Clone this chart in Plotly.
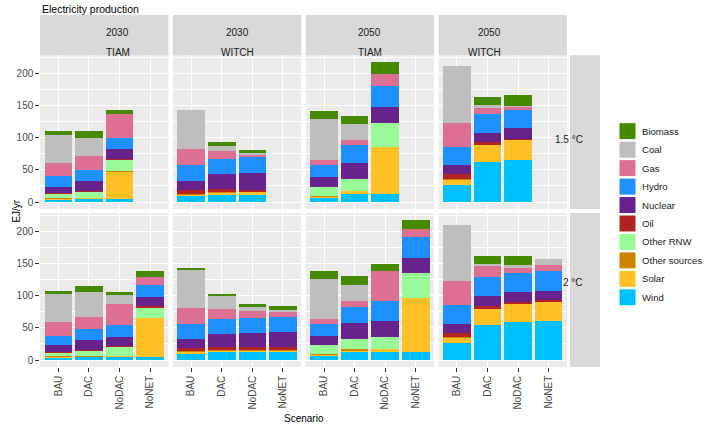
import plotly.graph_objects as go

W, H = 705, 425

# ---------------- data ----------------
scenarios = ["BAU", "DAC", "NoDAC", "NoNET"]
years = ["2030", "2030", "2050", "2050"]
models = ["TIAM", "WITCH", "TIAM", "WITCH"]
targets = ["1.5 °C", "2 °C"]
sources = ["Wind", "Solar", "Other sources", "Other RNW", "Oil",
           "Nuclear", "Hydro", "Gas", "Coal", "Biomass"]

# each list: 8 panels (row 1.5 °C: cols 1-4, then row 2 °C: cols 1-4) x 4 scenarios (None = not run)
wind = [[3, 5, 4, None], [10, 11, 11, None], [6, 12, 12, None], [27, 62, 65, None],
        [3.5, 5, 5.5, 5], [10, 12, 12, 12], [7, 13, 12, 12], [26.5, 54, 59, 60.5]]
solar = [[2, 1, 44, None], [2, 4, 5, None], [2, 5, 74, None], [8, 27, 32, None],
         [2, 1, 1, 60], [2.5, 3.5, 3.5, 3.5], [1.5, 2.5, 5, 84], [8.5, 25.5, 28.5, 30]]
other_sources = [[1, 0.5, 0.5, None], [1, 1, 0.5, None], [1, 0.5, 0, None], [0.5, 0, 0, None],
                 [0.5, 0.5, 0.5, 0], [1, 0.5, 0.5, 0.5], [0.5, 1.5, 0, 0], [0.5, 0, 0, 0]]
other_rnw = [[7, 10, 18, None], [0, 0, 0, None], [15, 19, 37, None], [0, 0, 0, None],
             [6, 9, 14, 16], [0, 0, 0, 0], [15, 15.5, 19.5, 39], [0, 0, 0, 0]]
oil = [[1, 0.5, 0.5, None], [5, 4, 3, None], [0, 0, 0, None], [8, 4, 2, None],
       [1, 0.5, 0.5, 2.5], [5, 4, 4, 4], [0, 0, 0, 0], [7, 4, 3.5, 2.5]]
nuclear = [[9, 15, 16, None], [15, 24, 26, None], [15, 25, 25, None], [14, 15, 16, None],
           [10, 15, 15, 15], [14, 20, 22.5, 23.5], [13.5, 25, 25, 24.5], [13.5, 16, 14.5, 15]]
hydro = [[17, 18, 17, None], [25, 23, 24, None], [19, 27, 33, None], [29, 29, 29, None],
         [14, 17, 18, 18], [24, 24, 23.5, 24], [19, 25, 30.5, 32.5], [30, 29.5, 29.5, 31]]
gas = [[21, 21, 38, None], [25, 12, 5, None], [7, 8, 18, None], [36, 9, 5, None],
       [22.5, 19, 33, 12.5], [25, 15, 11, 7.5], [8, 9, 47, 12.5], [36.5, 17, 9, 8.5]]
coal = [[44, 29, 0, None], [61, 9, 2, None], [64, 25, 0, None], [90, 5, 0.5, None],
        [43, 39, 13, 0], [60, 21.5, 5, 3.5], [62, 25.5, 0, 0], [88, 4, 4.5, 10.5]]
biomass = [[5, 10, 5, None], [0, 5, 4, None], [13, 13, 19, None], [0, 12, 17, None],
           [5, 9, 5, 9.5], [2, 2.5, 5, 5], [12.5, 14.5, 10.5, 13], [0, 11.5, 13, 0]]

values = {"Wind": wind, "Solar": solar, "Other sources": other_sources,
          "Other RNW": other_rnw, "Oil": oil, "Nuclear": nuclear, "Hydro": hydro,
          "Gas": gas, "Coal": coal, "Biomass": biomass}

colors = {"Biomass": "#468A00", "Coal": "#BEBEBE", "Gas": "#DB7093", "Hydro": "#1E90FF",
          "Nuclear": "#68228B", "Oil": "#B22222", "Other RNW": "#98FB98",
          "Other sources": "#CD8500", "Solar": "#FFC125", "Wind": "#00BFFF"}

# ---------------- layout geometry (pixels) ----------------
FONT = "Liberation Sans, Arial, Helvetica, sans-serif"
P_LEFT, P_RIGHT, GAP = 40, 567, 4.4
PW = (P_RIGHT - P_LEFT - 3 * GAP) / 4
col_x = [(P_LEFT + c * (PW + GAP), P_LEFT + c * (PW + GAP) + PW) for c in range(4)]
row_y = [(55.2, 209.0), (213.0, 367.0)]
STRIP_TOP = 15
RSTRIP = (570, 600)


def fx(x):
    return x / W


def fy(y):
    return 1 - y / H


# max stacked total for y range
totals = []
for p in range(8):
    for k in range(4):
        vs = [values[s][p][k] for s in sources if values[s][p][k] is not None]
        if vs:
            totals.append(sum(vs))
M = max(totals)
yrange = [-0.05 * M, 1.05 * M]

fig = go.Figure()
for p in range(8):
    ax = "" if p == 0 else str(p + 1)
    for s in sources:
        vals = values[s][p]
        xs = [sc for sc, v in zip(scenarios, vals) if v is not None]
        ys = [v for v in vals if v is not None]
        fig.add_trace(go.Bar(x=xs, y=ys, name=s, marker_color=colors[s],
                             marker_line_width=0, showlegend=False,
                             xaxis="x" + ax, yaxis="y" + ax,
                             hovertemplate=s + ": %{y}<extra></extra>"))

layout = dict(width=W, height=H, barmode="stack", bargap=0.1,
              margin=dict(l=0, r=0, t=0, b=0),
              paper_bgcolor="white", plot_bgcolor="#EBEBEB",
              font=dict(family=FONT, size=10, color="#1A1A1A"),
              showlegend=False)

for p in range(8):
    r, c = divmod(p, 4)
    ax = "" if p == 0 else str(p + 1)
    x0, x1 = col_x[c]
    y0, y1 = row_y[r]
    layout["xaxis" + ax] = dict(
        domain=[fx(x0), fx(x1)], anchor="y" + ax, type="category",
        categoryorder="array", categoryarray=scenarios, range=[-0.6, 3.6],
        showgrid=True, gridcolor="white", gridwidth=1.07, zeroline=False,
        showline=False, showticklabels=(r == 1), ticks="outside" if r == 1 else "",
        ticklen=3.7, tickwidth=1, tickcolor="#333333", tickangle=-90,
        tickfont=dict(family=FONT, size=10, color="#4D4D4D"))
    layout["yaxis" + ax] = dict(
        domain=[fy(y1), fy(y0)], anchor="x" + ax, range=yrange,
        tick0=0, dtick=50, showgrid=True, gridcolor="white", gridwidth=1.07,
        minor=dict(tick0=0, dtick=25, showgrid=True, gridcolor="white",
                   gridwidth=0.53, ticks=""),
        zeroline=False, showline=False, showticklabels=(c == 0),
        ticks="outside" if c == 0 else "", ticklen=3.7, tickwidth=1,
        tickcolor="#333333", tickfont=dict(family=FONT, size=10, color="#4D4D4D"))

shapes = []
annotations = []

# top strips
for c in range(4):
    x0, x1 = col_x[c]
    shapes.append(dict(type="rect", xref="paper", yref="paper",
                       x0=fx(x0), x1=fx(x1), y0=fy(row_y[0][0]), y1=fy(STRIP_TOP),
                       fillcolor="#D9D9D9", line=dict(width=0), layer="below"))
    mid = (STRIP_TOP + row_y[0][0]) / 2
    annotations.append(dict(text=years[c], xref="paper", yref="paper",
                            x=fx((x0 + x1) / 2), y=fy((STRIP_TOP + mid) / 2),
                            showarrow=False, font=dict(size=10, color="#1A1A1A")))
    annotations.append(dict(text=models[c], xref="paper", yref="paper",
                            x=fx((x0 + x1) / 2), y=fy((mid + row_y[0][0]) / 2),
                            showarrow=False, font=dict(size=10, color="#1A1A1A")))

# right strips
for r in range(2):
    y0, y1 = row_y[r]
    shapes.append(dict(type="rect", xref="paper", yref="paper",
                       x0=fx(RSTRIP[0]), x1=fx(RSTRIP[1]), y0=fy(y1), y1=fy(y0),
                       fillcolor="#D9D9D9", line=dict(width=0), layer="below"))
    annotations.append(dict(text=targets[r], xref="paper", yref="paper",
                            x=fx(sum(RSTRIP) / 2), y=fy((y0 + y1) / 2),
                            showarrow=False, font=dict(size=10, color="#1A1A1A")))

# titles
annotations.append(dict(text="Electricity production", xref="paper", yref="paper",
                        x=fx(P_LEFT), y=fy(0.5), xanchor="left", yanchor="top",
                        showarrow=False, font=dict(size=10.5, color="#000000")))
annotations.append(dict(text="Scenario", xref="paper", yref="paper",
                        x=fx((P_LEFT + P_RIGHT) / 2), y=fy(418), xanchor="center",
                        yanchor="middle", showarrow=False,
                        font=dict(size=10, color="#000000")))
annotations.append(dict(text="EJ/yr", xref="paper", yref="paper",
                        x=fx(9), y=fy((row_y[0][0] + row_y[1][1]) / 2),
                        textangle=-90, showarrow=False,
                        font=dict(size=10, color="#000000")))

# legend (drawn manually, ggplot style)
legend_order = ["Biomass", "Coal", "Gas", "Hydro", "Nuclear", "Oil", "Other RNW",
                "Other sources", "Solar", "Wind"]
LEG_X0, KEY = 619, 17
LEG_Y0, STEP = 131.2, 18.46
for i, s in enumerate(legend_order):
    cy = LEG_Y0 + i * STEP
    shapes.append(dict(type="rect", xref="paper", yref="paper",
                       x0=fx(LEG_X0), x1=fx(LEG_X0 + KEY),
                       y0=fy(cy + KEY / 2), y1=fy(cy - KEY / 2),
                       fillcolor=colors[s], line=dict(width=1, color="white")))
    annotations.append(dict(text=s, xref="paper", yref="paper",
                            x=fx(LEG_X0 + KEY + 4), y=fy(cy), xanchor="left",
                            yanchor="middle", showarrow=False,
                            font=dict(size=9.6, color="#1A1A1A")))

layout["shapes"] = shapes
layout["annotations"] = annotations
fig.update_layout(**layout)
fig.write_html("out.html",
               config={"displayModeBar": False},
               post_script="document.body.style.margin='0px';"
                           "document.body.style.overflow='hidden';")
